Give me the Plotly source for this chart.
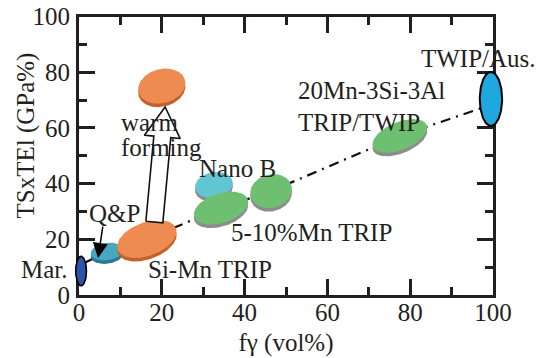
import numpy as np
import plotly.graph_objects as go

# ---------------- data ----------------
x_ticks = [0, 20, 40, 60, 80, 100]
y_ticks = [0, 20, 40, 60, 80, 100]

# ellipse regions: steel class, centre fγ (vol%), centre TS×TEl (GPa%), half-spans
names = ["Mar.", "Q&P", "Si-Mn TRIP", "warm forming", "Nano B",
         "5-10%Mn TRIP a", "5-10%Mn TRIP b", "20Mn-3Si-3Al", "TWIP/Aus."]
fg_center = [0.5, 6.8, 16.4, 20.0, 32.6, 34.3, 46.4, 77.5, 99.5]
tsel_center = [8.6, 15.6, 20.1, 75.0, 39.5, 31.2, 37.3, 57.1, 70.4]
fg_half = [1.3, 4.0, 7.5, 5.8, 4.6, 6.8, 5.1, 7.0, 2.7]
tsel_half = [5.3, 3.1, 6.0, 6.1, 4.6, 5.3, 6.0, 5.0, 9.7]
tilt_deg = [0, 8, 20, 15, 10, 18, 15, 22, 0]

# trend line (dash-dot)
trend_fg = [1.2, 6.8, 16.4, 34.3, 46.4, 77.5, 99.5]
trend_tsel = [11.5, 15.4, 20.1, 31.2, 37.3, 57.1, 68.3]

# warm forming arrow (from Si-Mn TRIP up to warm-formed)
warm_from = (18.2, 26.2)
warm_to = (20.8, 67.5)
# Q&P label arrow
qp_from = (5.8, 25.1)
qp_to = (4.6, 13.3)

labels = ["Q&P", "Mar.", "Si-Mn TRIP", "warm", "forming", "Nano B",
          "5-10%Mn TRIP", "20Mn-3Si-3Al", "TRIP/TWIP", "TWIP/Aus."]
label_fg = [2.2, -14.3, 16.4, 9.9, 9.9, 28.7, 36.5, 52.7, 52.7, 82.4]
label_tsel = [29.4, 9.0, 9.3, 61.8, 52.8, 45.6, 22.6, 73.6, 62.1, 85.1]

# ---------------- layout geometry ----------------
W, H = 536, 358
PX_X0, PX_X1 = 79, 493
PX_YB, PX_YT = 295, 16.5
sx = (PX_X1 - PX_X0) / 100.0
sy = (PX_YB - PX_YT) / 100.0
x2_range = [-PX_X0 / sx, 100 + (W - PX_X1) / sx]
y2_range = [-(H - PX_YB) / sy, 100 + PX_YT / sy]

styles = [
    dict(fill="#2D55A5", shade=None, line="#000000", lw=1.6),
    dict(fill="#47A8C1", shade="#2B7891", line=None, lw=0),
    dict(fill="#EE8B50", shade="#C2612B", line=None, lw=0),
    dict(fill="#EE8B50", shade="#C2612B", line=None, lw=0),
    dict(fill="#60C6D2", shade="#8C8C8C", line=None, lw=0),
    dict(fill="#6EC070", shade="#8C8C8C", line=None, lw=0),
    dict(fill="#6EC070", shade="#8C8C8C", line=None, lw=0),
    dict(fill="#6EC070", shade="#8C8C8C", line=None, lw=0),
    dict(fill="#1FA7DF", shade=None, line="#000000", lw=2),
]


def ellipse(cx, cy, rx, ry, tilt, drop_px=0.0, n=140):
    a, b = rx * sx, ry * sy
    th = np.radians(tilt)
    t = np.linspace(0, 2 * np.pi, n)
    dx = a * np.cos(t) * np.cos(th) - b * np.sin(t) * np.sin(th)
    dy = a * np.cos(t) * np.sin(th) + b * np.sin(t) * np.cos(th)
    return cx + dx / sx, cy + (dy - drop_px) / sy


fig = go.Figure()

# trend line lives on the visible axes (x, y)
fig.add_trace(go.Scatter(
    x=trend_fg, y=trend_tsel, mode="lines", xaxis="x", yaxis="y",
    line=dict(color="#111111", width=2.2, dash="10px,6px,2px,6px"),
    hoverinfo="skip", showlegend=False))

for i in range(len(names)):
    st = styles[i]
    if st["shade"]:
        ex, ey = ellipse(fg_center[i], tsel_center[i], fg_half[i], tsel_half[i], tilt_deg[i], 3.5)
        fig.add_trace(go.Scatter(x=ex, y=ey, mode="lines", fill="toself",
                                 fillcolor=st["shade"], line=dict(width=0, color=st["shade"]),
                                 xaxis="x2", yaxis="y2", hoverinfo="skip", showlegend=False))
    ex, ey = ellipse(fg_center[i], tsel_center[i], fg_half[i], tsel_half[i], tilt_deg[i])
    fig.add_trace(go.Scatter(x=ex, y=ey, mode="lines", fill="toself",
                             fillcolor=st["fill"],
                             line=dict(width=st["lw"], color=st["line"] or st["fill"]),
                             xaxis="x2", yaxis="y2", name=names[i],
                             hoverinfo="name", showlegend=False))

# hollow arrow for warm forming (built in pixel space from the two data points)
p0 = np.array([warm_from[0] * sx, warm_from[1] * sy])
p1 = np.array([warm_to[0] * sx, warm_to[1] * sy])
u = (p1 - p0) / np.linalg.norm(p1 - p0)
nrm = np.array([-u[1], u[0]])
shaft_hw, head_hw, head_len = 8.5, 18.0, 30.0
hb = p1 - u * head_len
pts = [p0 + nrm * shaft_hw, hb + nrm * shaft_hw, hb + nrm * head_hw, p1,
       hb - nrm * head_hw, hb - nrm * shaft_hw, p0 - nrm * shaft_hw, p0 + nrm * shaft_hw]
ax_ = [p[0] / sx for p in pts]
ay_ = [p[1] / sy for p in pts]
fig.add_trace(go.Scatter(x=ax_, y=ay_, mode="lines", fill="toself", fillcolor="white",
                         line=dict(color="#111111", width=1.6), xaxis="x2", yaxis="y2",
                         hoverinfo="skip", showlegend=False))

FONT = "Liberation Serif"
TXT = "#231F20"
FS = 25

for t, lx, ly in zip(labels, label_fg, label_tsel):
    fig.add_annotation(x=lx, y=ly, xref="x2", yref="y2", text=t, showarrow=False,
                       xanchor="left", yanchor="middle", borderpad=0,
                       font=dict(family=FONT, size=FS, color=TXT))

fig.add_annotation(x=qp_to[0], y=qp_to[1], ax=qp_from[0], ay=qp_from[1],
                   xref="x2", yref="y2", axref="x2", ayref="y2", text="",
                   showarrow=True, arrowhead=2, arrowsize=2, arrowwidth=1.5,
                   arrowcolor="#000000")

# y-axis title placed as rotated text at the reference position
fig.add_annotation(x=25 / W, y=1 - 135.5 / H, xref="paper", yref="paper",
                   text="TSxTEl (GPa%)", textangle=-90, showarrow=False,
                   xanchor="center", yanchor="middle",
                   font=dict(family=FONT, size=FS, color=TXT))

axis_common = dict(
    showline=True, linewidth=3, linecolor=TXT, mirror="ticks",
    ticks="inside", ticklen=16, tickwidth=3, tickcolor=TXT,
    showgrid=False, zeroline=False, automargin=False,
    tickfont=dict(family=FONT, size=FS, color=TXT),
    minor=dict(dtick=10, ticks="inside", ticklen=8, tickwidth=3, tickcolor=TXT, showgrid=False),
)

fig.update_layout(
    width=W, height=H,
    margin=dict(l=0, r=0, t=0, b=0),
    paper_bgcolor="white", plot_bgcolor="rgba(0,0,0,0)",
    xaxis=dict(domain=[PX_X0 / W, PX_X1 / W], range=[0, 100],
               tickvals=x_ticks, ticktext=[str(v) for v in x_ticks],
               title=dict(text="fγ (vol%)", font=dict(family=FONT, size=FS, color=TXT), standoff=9),
               anchor="y", ticklabelstandoff=-7, **axis_common),
    yaxis=dict(domain=[(H - PX_YB) / H, (H - PX_YT) / H], range=[0, 100],
               tickvals=y_ticks, ticktext=[str(v) for v in y_ticks],
               anchor="x", ticklabelstandoff=1, **axis_common),
    xaxis2=dict(domain=[0, 1], range=x2_range, visible=False, anchor="y2", fixedrange=True),
    yaxis2=dict(domain=[0, 1], range=y2_range, visible=False, anchor="x2", fixedrange=True),
    showlegend=False,
)

fig.write_html("out.html")
